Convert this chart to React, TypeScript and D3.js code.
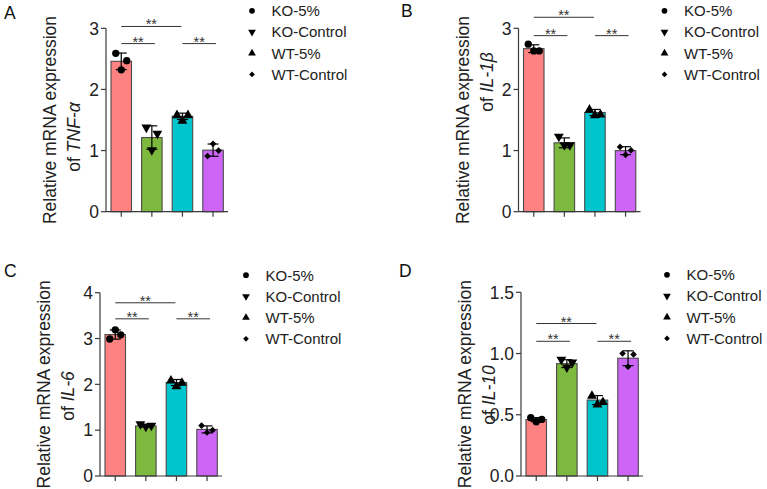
import React from "react";
import * as d3 from "d3";

const groups = ["KO-5%", "KO-Control", "WT-5%", "WT-Control"];
const barColors = ["#FF8282", "#7DB83F", "#00C5CD", "#CD66F7"];
const symbolsList = [d3.symbolCircle, d3.symbolTriangle, d3.symbolTriangle, d3.symbolSquare];
const symbolRotate = [0, 180, 0, 45];

// values per group, listed left / centre / right point
const tnfValues = [[2.59, 2.32, 2.47], [1.37, 1.0, 1.27], [1.59, 1.5, 1.59], [0.91, 1.11, 1.0]];
const il1bValues = [[2.74, 2.63, 2.63], [1.22, 1.08, 1.08], [1.68, 1.59, 1.6], [1.06, 0.93, 1.005]];
const il6Values = [[2.99, 3.19, 3.08], [1.12, 1.07, 1.09], [2.1, 1.97, 2.05], [1.1, 0.95, 1.0]];
const il10Values = [[0.476, 0.443, 0.462], [0.946, 0.883, 0.924], [0.661, 0.59, 0.609], [1.0, 0.892, 0.993]];

const tnfTicks = [0, 1, 2, 3];
const il1bTicks = [0, 1, 2, 3];
const il6Ticks = [0, 1, 2, 3, 4];
const il10Ticks = [0, 0.5, 1.0, 1.5];

const sigPairs = [[0, 2], [0, 1], [2, 3]];
const tnfSig = [3.03, 2.75, 2.75];
const il1bSig = [3.18, 2.88, 2.88];
const il6Sig = [3.78, 3.43, 3.43];
const il10Sig = [1.245, 1.1, 1.1];

const FONT = "'Liberation Sans', Arial, Helvetica, sans-serif";

type PanelProps = {
  letter: string;
  letterX: number;
  letterY: number;
  gene: string;
  values: number[][];
  ticks: number[];
  tickFmt: (v: number) => string;
  ymax: number;
  sig: number[];
  axisX: number;
  top: number;
  bottom: number;
  line2Center: number;
};

function Panel(p: PanelProps) {
  const y = d3.scaleLinear().domain([0, p.ymax]).range([p.bottom, p.top]);
  const x = d3
    .scaleBand<string>()
    .domain(groups)
    .range([p.axisX + 5, p.axisX + 5 + 3 * 30.6 + 20.5])
    .paddingInner(0.33)
    .paddingOuter(0);
  const bw = x.bandwidth();
  const cx = (i: number) => (x(groups[i]) as number) + bw / 2;
  const offsets = [-5.5, 0, 5.5];
  const midY = (p.top + p.bottom) / 2;
  const legX = p.axisX + 146;
  const legTop = p.top - 17.5;
  return (
    <g>
      <text x={p.letterX} y={p.letterY} fontSize={17.5} fontFamily={FONT} fill="#111">
        {p.letter}
      </text>
      <text
        transform={`translate(${p.axisX - 50},${midY}) rotate(-90)`}
        textAnchor="middle"
        fontSize={17.5}
        fontFamily={FONT}
        fill="#222"
      >
        Relative mRNA expression
      </text>
      <text
        transform={`translate(${p.axisX - 26},${p.line2Center}) rotate(-90)`}
        textAnchor="middle"
        fontSize={17.5}
        fontFamily={FONT}
        fill="#222"
      >
        of <tspan fontStyle="italic">{p.gene}</tspan>
      </text>
      {p.values.map((vals, i) => {
        const m = d3.mean(vals) as number;
        return (
          <rect
            key={"b" + i}
            x={x(groups[i])}
            y={y(m)}
            width={bw}
            height={y(0) - y(m)}
            fill={barColors[i]}
            stroke="#4a4a4a"
            strokeWidth={1.1}
          />
        );
      })}
      {p.values.map((vals, i) =>
        vals.map((v, k) => {
          const path = d3.symbol().type(symbolsList[i]).size(i === 3 ? 22 : 42)() as string;
          return (
            <path
              key={"p" + i + k}
              d={path}
              transform={`translate(${cx(i) + offsets[k]},${y(v) + (i === 1 ? -0.5 : i === 2 ? 0.8 : 0)}) rotate(${symbolRotate[i]})`}
              fill="#000"
            />
          );
        })
      )}
      {p.values.map((vals, i) => {
        const m = d3.mean(vals) as number;
        const s = d3.deviation(vals) as number;
        const c = cx(i);
        return (
          <g key={"e" + i} stroke="#000" strokeWidth={1.2}>
            <line x1={c} x2={c} y1={y(m + s)} y2={y(m - s)} />
            <line x1={c - 5.5} x2={c + 5.5} y1={y(m + s)} y2={y(m + s)} />
            <line x1={c - 5.5} x2={c + 5.5} y1={y(m - s)} y2={y(m - s)} />
          </g>
        );
      })}
      <g stroke="#3a3a3a" strokeWidth={1.2}>
        <line x1={p.axisX} x2={p.axisX} y1={y(p.ymax)} y2={y(0)} />
        <line x1={p.axisX} x2={p.axisX + 122} y1={y(0)} y2={y(0)} />
        {p.ticks.map((t) => (
          <line key={"yt" + t} x1={p.axisX - 5} x2={p.axisX} y1={y(t)} y2={y(t)} />
        ))}
        {groups.map((g, i) => (
          <line key={"xt" + g} x1={cx(i)} x2={cx(i)} y1={y(0)} y2={y(0) + 5} />
        ))}
      </g>
      {p.ticks.map((t) => (
        <text
          key={"yl" + t}
          x={p.axisX - 7}
          y={y(t)}
          dy="0.36em"
          textAnchor="end"
          fontSize={17.5}
          fontFamily={FONT}
          fill="#222"
        >
          {p.tickFmt(t)}
        </text>
      ))}
      {sigPairs.map(([a, b], k) => {
        const x1 = cx(a);
        const x2 = cx(b) + (b - a === 1 ? 3 : -1);
        const ly = y(p.sig[k]);
        return (
          <g key={"s" + k}>
            <line x1={x1} x2={x2} y1={ly} y2={ly} stroke="#333" strokeWidth={1} />
            <text
              x={(x1 + x2) / 2}
              y={ly + 3}
              textAnchor="middle"
              fontSize={14.5}
              fontFamily={FONT}
              fill="#333"
            >
              **
            </text>
          </g>
        );
      })}
      {groups.map((g, i) => {
        const ry = legTop + i * 21.2;
        const path = d3.symbol().type(symbolsList[i]).size(i === 3 ? 16 : 26)() as string;
        return (
          <g key={"l" + g}>
            <path d={path} transform={`translate(${legX},${ry}) rotate(${symbolRotate[i]})`} fill="#000" />
            <text x={legX + 19.5} y={ry} dy="0.36em" fontSize={15} fontFamily={FONT} fill="#222">
              {g}
            </text>
          </g>
        );
      })}
    </g>
  );
}

export default function App() {
  const f0 = (v: number) => d3.format("d")(v);
  const f1 = (v: number) => d3.format(".1f")(v);
  return (
    <svg
      width={767}
      height={489}
      style={{ position: "absolute", left: 0, top: 0, background: "#fff" }}
    >
      <rect width={767} height={489} fill="#fff" />
      <Panel letter="A" letterX={4} letterY={19} gene="TNF-α" values={tnfValues} ticks={tnfTicks} tickFmt={f0} ymax={3} sig={tnfSig} axisX={106} top={28.3} bottom={211.7} line2Center={137} />
      <Panel letter="B" letterX={401} letterY={17} gene="IL-1β" values={il1bValues} ticks={il1bTicks} tickFmt={f0} ymax={3} sig={il1bSig} axisX={518.5} top={28.3} bottom={211.7} line2Center={82} />
      <Panel letter="C" letterX={4} letterY={277} gene="IL-6" values={il6Values} ticks={il6Ticks} tickFmt={f0} ymax={4} sig={il6Sig} axisX={100} top={292.7} bottom={476} line2Center={396} />
      <Panel letter="D" letterX={399} letterY={277} gene="IL-10" values={il10Values} ticks={il10Ticks} tickFmt={f1} ymax={1.5} sig={il10Sig} axisX={521} top={292.3} bottom={476} line2Center={395} />
    </svg>
  );
}
